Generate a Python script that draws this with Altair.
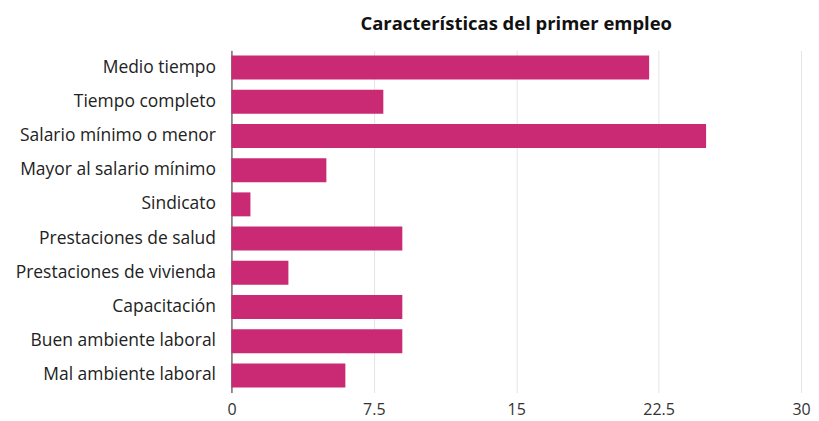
import altair as alt
import pandas as pd

categorias = [
    "Medio tiempo",
    "Tiempo completo",
    "Salario mínimo o menor",
    "Mayor al salario mínimo",
    "Sindicato",
    "Prestaciones de salud",
    "Prestaciones de vivienda",
    "Capacitación",
    "Buen ambiente laboral",
    "Mal ambiente laboral",
]
valores = [22, 8, 25, 5, 1, 9, 3, 9, 9, 6]
ticks_x = [0, 7.5, 15, 22.5, 30]

df = pd.DataFrame({"cat": categorias, "val": valores})

FONT = "Open Sans"

chart = (
    alt.Chart(df)
    .mark_bar(color="#c92a73")
    .encode(
        x=alt.X(
            "val:Q",
            scale=alt.Scale(domain=[0, 30], nice=False),
            axis=alt.Axis(
                values=ticks_x,
                format=".1~f",
                title=None,
                domain=False,
                ticks=False,
                grid=True,
                gridColor="#e4e4e4",
                labelFont=FONT,
                labelFontSize=16,
                labelColor="#333333",
                labelPadding=9,
                labelFlush=False,
            ),
        ),
        y=alt.Y(
            "cat:N",
            sort=categorias,
            scale=alt.Scale(paddingInner=0.3, paddingOuter=0.15),
            axis=alt.Axis(
                title=None,
                ticks=False,
                domain=True,
                domainColor="#333333",
                labelFont=FONT,
                labelFontSize=17.5,
                labelColor="#222222",
                labelPadding=16,
                labelLimit=300,
            ),
        ),
    )
    .properties(
        width=571,
        height=343,
        title=alt.TitleParams(
            "Características del primer empleo",
            font=FONT,
            fontSize=18.5,
            fontWeight="bold",
            color="#111111",
            anchor="middle",
            offset=17,
        ),
        autosize=alt.AutoSizeParams(type="none"),
        padding={"left": 224, "top": 42, "right": 10, "bottom": 27},
    )
    .configure_view(stroke=None)
)

chart.save("out.html", embed_options={"renderer": "svg", "actions": False})
